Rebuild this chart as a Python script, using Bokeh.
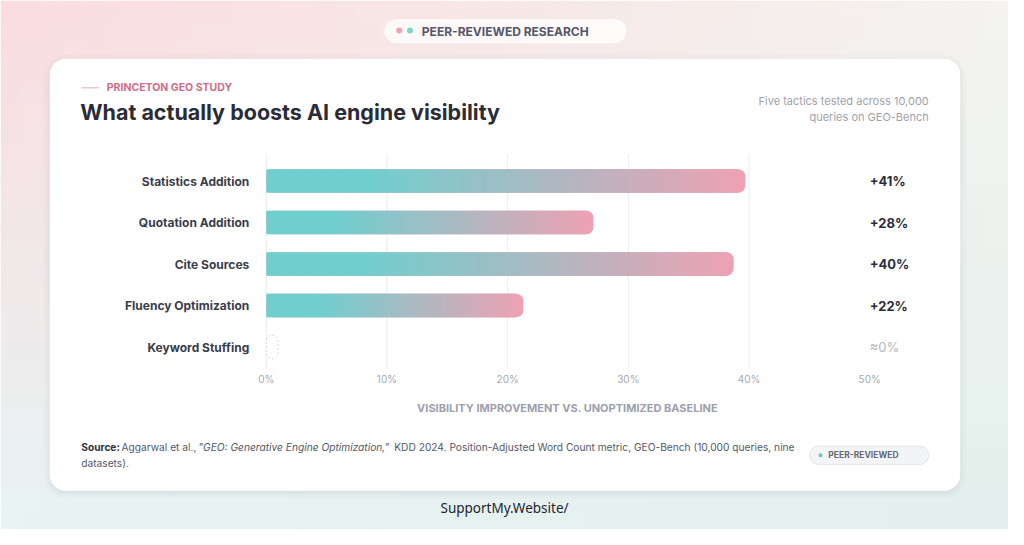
import numpy as np
from bokeh.plotting import figure
from bokeh.models import Range1d
from bokeh.core.properties import value
from bokeh.embed import file_html
from bokeh.resources import INLINE

# ---------------- data ----------------
categories = ["Statistics Addition", "Quotation Addition", "Cite Sources",
              "Fluency Optimization", "Keyword Stuffing"]
improvement = [41, 28, 40, 22, 0]
value_labels = ["+41%", "+28%", "+40%", "+22%", "≈0%"]
x_ticks = [0, 10, 20, 30, 40, 50]
tick_labels = ["0%", "10%", "20%", "30%", "40%", "50%"]

# ---------------- layout helpers (reference pixel space 1024 x 545) ----------------
W, H = 1008, 529
RW, RH = 1024.0, 545.0
ROW0, ROWSTEP = 186.0, 42.75      # y of first row, row pitch
X0, BAR_PX, AXIS_PX = 270.0, 11.87, 12.26

def py(y):
    return (y - ROW0) / ROWSTEP

def px(x):
    return (x - X0) / BAR_PX

p = figure(width=W, height=H, output_backend="svg", toolbar_location=None,
           x_range=Range1d(px(0), px(RW)), y_range=Range1d(py(RH), py(0)),
           x_axis_location=None, y_axis_location=None,
           min_border=0, outline_line_color=None, background_fill_color="white",
           border_fill_color="white")
p.extra_x_ranges = {"axis": Range1d((0 - X0) / AXIS_PX, (RW - X0) / AXIS_PX)}
p.xgrid.visible = False
p.ygrid.visible = False

FONT = value("Inter")

def hexrgb(h):
    h = h.lstrip("#")
    return np.array([int(h[i:i + 2], 16) for i in (0, 2, 4)], dtype=float)

def rgbhex(c):
    c = np.clip(np.round(c), 0, 255).astype(int)
    return "#%02x%02x%02x" % tuple(c)

# ---------------- background gradient ----------------
TL, TR, BL, BR = hexrgb("#fbdcdf"), hexrgb("#f4f3ef"), hexrgb("#e7f4f3"), hexrgb("#e3f0ed")
nx, ny = 48, 26
xe = np.linspace(0, RW, nx + 1)
ye = np.linspace(0, RH, ny + 1)
L, R, T, B, C = [], [], [], [], []
for i in range(nx):
    for j in range(ny):
        u = ((xe[i] + xe[i + 1]) / 2) / RW
        v = ((ye[j] + ye[j + 1]) / 2) / RH
        col = (1 - u) * (1 - v) * TL + u * (1 - v) * TR + (1 - u) * v * BL + u * v * BR
        L.append(px(xe[i])); R.append(px(xe[i + 1]) + 0.05)
        T.append(py(ye[j])); B.append(py(ye[j + 1]) + 0.02)
        C.append(rgbhex(col))
p.quad(left=L, right=R, top=T, bottom=B, fill_color=C, line_color=None)

def txt(x, y, s, size, color, style="normal", align="left", font=FONT, **kw):
    p.text(x=[px(x)], y=[py(y)], text=[s], text_font=font, text_font_size=value(size),
           text_color=color, text_font_style=style, text_align=align,
           text_baseline="middle", **kw)

# ---------------- top pill ----------------
p.quad(left=px(390), right=px(636), top=py(19), bottom=py(44), fill_color="white",
       fill_alpha=0.75, line_color=None, border_radius=12)
p.scatter(x=[px(405)], y=[py(31)], size=6, fill_color="#f1a2b6", line_color=None)
p.scatter(x=[px(416)], y=[py(31)], size=6, fill_color="#7fd4c6", line_color=None)
txt(428, 31.5, "PEER-REVIEWED RESEARCH", "12px", "#55586a", "bold")

# ---------------- card ----------------
for k, a in [(6, 0.03), (3, 0.04), (1, 0.05)]:
    p.quad(left=px(50 - k), right=px(975 + k), top=py(60 - k + 2), bottom=py(505 + k + 2),
           fill_color="#8a8f9c", fill_alpha=a, line_color=None, border_radius=16 + k)
p.quad(left=px(50), right=px(975), top=py(60), bottom=py(505), fill_color="white",
       line_color=None, border_radius=16)

# ---------------- header ----------------
p.segment(x0=[px(82)], y0=[py(90)], x1=[px(100)], y1=[py(90)], line_color="#e3aab7", line_width=1)
txt(108, 90, "PRINCETON GEO STUDY", "10.5px", "#cf6d86", "bold")
txt(81, 114.5, "What actually boosts AI engine visibility", "21.5px", "#2a2c38", "bold")
txt(943, 104, "Five tactics tested across 10,000", "11px", "#9fa2ab", align="right")
txt(943, 120, "queries on GEO-Bench", "11px", "#9fa2ab", align="right")

# ---------------- gridlines (axis scale) ----------------
g = x_ticks[:-1]
p.segment(x0=g, y0=[py(158)] * len(g), x1=g, y1=[py(380)] * len(g),
          line_color="#ebebf0", line_width=1, x_range_name="axis")

# ---------------- bars ----------------
teal, pink = hexrgb("#6fcfcf"), hexrgb("#eea1b3")

def grad(t):
    s = np.clip((t - 0.2) / 0.8, 0, 1)
    return rgbhex((1 - s) * teal + s * pink)

BAR_H = 0.57
nz = [i for i, v in enumerate(improvement) if v > 0]
p.hbar(y=nz, left=[0] * len(nz), right=[improvement[i] for i in nz], height=BAR_H,
       fill_color=rgbhex(pink), line_color=None, border_radius=7)
N = 90
sl, sr, sy, sc = [], [], [], []
for i in nz:
    v = improvement[i]
    span = v - 8 / BAR_PX
    edges = np.linspace(0, span, N + 1)
    for k in range(N):
        sl.append(edges[k]); sr.append(edges[k + 1] + 0.08); sy.append(i)
        sc.append(grad((edges[k] + edges[k + 1]) / 2 / v))
p.hbar(y=sy, left=sl, right=sr, height=BAR_H, fill_color=sc, line_color=None)

zi = [i for i, v in enumerate(improvement) if v == 0]
p.hbar(y=zi, left=[improvement[i] for i in zi], right=[max(improvement[i], 1.0) for i in zi],
       height=BAR_H, fill_color="white", line_color="#d3d6dd", line_dash="2 2",
       line_width=1, border_radius=6)

# ---------------- category labels ----------------
p.text(x=[0] * len(categories), y=list(range(len(categories))), text=categories,
       x_offset=-17, text_align="right", text_baseline="middle", text_font=FONT,
       text_font_size=value("12px"), text_font_style="bold", text_color="#3a3d4a")

# ---------------- value labels (right column) ----------------
pos = [i for i, v in enumerate(improvement) if v > 0]
p.text(x=[50] * len(pos), y=pos, text=[value_labels[i] for i in pos], x_range_name="axis",
       text_align="left", text_baseline="middle", text_font=FONT,
       text_font_size=value("13px"), text_font_style="bold", text_color="#2b2e3a")
p.text(x=[50] * len(zi), y=zi, text=[value_labels[i] for i in zi], x_range_name="axis",
       text_align="left", text_baseline="middle", text_font=FONT,
       text_font_size=value("13px"), text_color="#b5b8c0")

# ---------------- tick labels and axis title ----------------
p.text(x=x_ticks, y=[py(390)] * len(x_ticks), text=tick_labels, x_range_name="axis",
       text_align="center", text_baseline="middle", text_font=FONT,
       text_font_size=value("10px"), text_color="#a6a9b2")
txt(576, 419.5, "VISIBILITY IMPROVEMENT VS. UNOPTIMIZED BASELINE", "11px", "#9da0ac",
    "bold", align="center")

# ---------------- source note ----------------
SF = "10.2px"
txt(82, 460, "Source:", SF, "#2f3240", "bold")
txt(123, 460, "Aggarwal et al.,", SF, "#555866")
txt(201, 460, "\"GEO: Generative Engine Optimization,\"", SF, "#555866", "italic")
txt(400, 460, "KDD 2024. Position-Adjusted Word Count metric, GEO-Bench (10,000 queries, nine",
    SF, "#555866")
txt(82, 476, "datasets).", SF, "#555866")

p.quad(left=px(822), right=px(943), top=py(459), bottom=py(478), fill_color="#f2f4f6",
       line_color="#e4e7eb", line_width=1, border_radius=9)
p.scatter(x=[px(833)], y=[py(468.5)], size=4, fill_color="#6fc9bf", line_color=None)
txt(841, 468.5, "PEER-REVIEWED", "8.5px", "#666978", "bold")

# ---------------- footer ----------------
txt(512, 523, "SupportMy.Website/", "13.5px", "#222430", align="center",
    font=value("Noto Sans"))

open("out.html", "w").write(file_html(p, INLINE))
